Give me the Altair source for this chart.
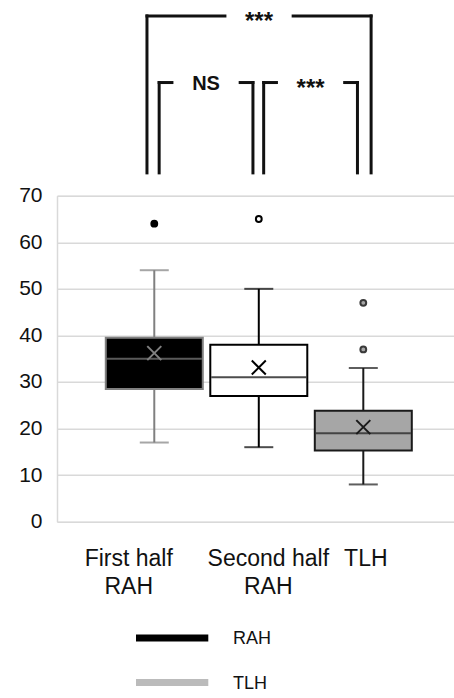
import json
import altair as alt
import pandas as pd

# ---------------- data ----------------
categories = ["First half RAH", "Second half RAH", "TLH"]
whisker_low = [17, 16, 8]
q1 = [28.5, 27.0, 15.3]
median = [35.0, 31.0, 19.0]
q3 = [39.5, 38.0, 23.8]
whisker_high = [54, 50, 33]
mean = [36.2, 33.1, 20.3]

outlier_category = ["First half RAH", "Second half RAH", "TLH", "TLH"]
outlier_value = [64, 65, 47, 37]

bracket_from = ["First half RAH", "First half RAH", "Second half RAH"]
bracket_to = ["TLH", "Second half RAH", "TLH"]
bracket_label = ["***", "NS", "***"]
bracket_level = [2, 1, 1]

legend_series = ["RAH", "TLH"]
y_ticks = [0, 10, 20, 30, 40, 50, 60, 70]

# ---------------- styles ----------------
FONT = "Liberation Sans"
box_fill = {"First half RAH": "#000000", "Second half RAH": "#ffffff", "TLH": "#a6a6a6"}
box_line = {"First half RAH": "#808080", "Second half RAH": "#000000", "TLH": "#1a1a1a"}
out_fill = {"First half RAH": "#000000", "Second half RAH": "#ffffff", "TLH": "#a6a6a6"}
out_line = {"First half RAH": "#000000", "Second half RAH": "#000000", "TLH": "#3a3a3a"}
legend_colors = ["#000000", "#bbbbbb"]

W, H = 397, 326
x_dom = [-0.883, 2.820]
ppu = W / (x_dom[1] - x_dom[0])  # pixels per category step
xs = alt.Scale(domain=x_dom, nice=False, zero=False)
ys = alt.Scale(domain=[0, 70], nice=False, zero=False)

idx = {c: i for i, c in enumerate(categories)}

box = pd.DataFrame({
    "cat": categories, "idx": list(range(len(categories))),
    "wlo": whisker_low, "q1": q1, "med": median, "q3": q3,
    "whi": whisker_high, "mean": mean,
})
box["fill"] = box["cat"].map(box_fill)
box["line"] = box["cat"].map(box_line)

outl = pd.DataFrame({"cat": outlier_category, "val": outlier_value})
outl["idx"] = outl["cat"].map(idx)
outl["fill"] = outl["cat"].map(out_fill)
outl["line"] = outl["cat"].map(out_line)

# brackets (annotation geometry derived from category positions)
end_offsets = {2: (-7.5, 8.0), 1: (5.0, -6.0)}   # pixel nudges from box centres
level_top = {1: 94.3, 2: 108.6}
bracket_base = 74.9
gap = 70 / ppu
segs, labels = [], []
for f, t, lab, lev in zip(bracket_from, bracket_to, bracket_label, bracket_level):
    xl = idx[f] + end_offsets[lev][0] / ppu
    xr = idx[t] + end_offsets[lev][1] / ppu
    xm = (xl + xr) / 2
    top = level_top[lev]
    segs += [
        {"x": xl, "x2": xl, "y": bracket_base, "y2": top},
        {"x": xl, "x2": xm - gap / 2, "y": top, "y2": top},
        {"x": xm + gap / 2, "x2": xr, "y": top, "y2": top},
        {"x": xr, "x2": xr, "y": top, "y2": bracket_base},
    ]
    labels.append({"x": xm, "y": top, "label": lab})
segs = pd.DataFrame(segs)
labels = pd.DataFrame(labels)

# ---------------- axes ----------------
label_lines = [c.rsplit(" ", 1) if " " in c else c for c in categories]
label_expr = json.dumps(label_lines).replace('"', "'") + "[datum.value]"

x_axis = alt.Axis(
    values=list(range(len(categories))), labelExpr=label_expr, title=None,
    grid=False, ticks=False, domain=False, labelFont=FONT, labelFontSize=23,
    labelColor="#111111", labelPadding=26, labelLineHeight=28, labelBaseline="top",
    labelFlush=False, labelOverlap=False,
    labelOffset={"condition": [{"test": "datum.value == 0", "value": -26},
                               {"test": "datum.value == 1", "value": 9}],
                 "value": 2},
)
y_axis = alt.Axis(
    values=y_ticks, title=None, grid=True, gridColor="#d9d9d9", gridWidth=1.5,
    domain=True, domainColor="#d9d9d9", domainWidth=1.5, ticks=False,
    labelFont=FONT, labelFontSize=21, labelColor="#111111", labelPadding=15,
)

base = alt.Chart(box)
X = alt.X("idx:Q", scale=xs, axis=x_axis)

boxes = base.mark_bar(size=97, strokeWidth=2).encode(
    x=X, y=alt.Y("q1:Q", scale=ys, axis=y_axis), y2="q3:Q",
    fill=alt.Fill("fill:N", scale=None), stroke=alt.Stroke("line:N", scale=None),
)
whisk_lo = base.mark_rule(strokeWidth=2).encode(
    x=X, y=alt.Y("wlo:Q", scale=ys), y2="q1:Q", stroke=alt.Stroke("line:N", scale=None))
whisk_hi = base.mark_rule(strokeWidth=2).encode(
    x=X, y=alt.Y("q3:Q", scale=ys), y2="whi:Q", stroke=alt.Stroke("line:N", scale=None))
cap_lo = base.mark_tick(orient="horizontal", size=29, thickness=2).encode(
    x=X, y=alt.Y("wlo:Q", scale=ys), color=alt.Color("line:N", scale=None))
cap_hi = base.mark_tick(orient="horizontal", size=29, thickness=2).encode(
    x=X, y=alt.Y("whi:Q", scale=ys), color=alt.Color("line:N", scale=None))
med = base.mark_tick(orient="horizontal", size=95, thickness=2).encode(
    x=X, y=alt.Y("med:Q", scale=ys), color=alt.Color("line:N", scale=None))
mean_x = base.mark_point(shape="M-1,-1L1,1M-1,1L1,-1", size=196, filled=False,
                         strokeWidth=2, opacity=1).encode(
    x=X, y=alt.Y("mean:Q", scale=ys), stroke=alt.Stroke("line:N", scale=None))

outliers = alt.Chart(outl).mark_point(filled=True, size=34, strokeWidth=2, opacity=1).encode(
    x=alt.X("idx:Q", scale=xs), y=alt.Y("val:Q", scale=ys),
    fill=alt.Fill("fill:N", scale=None), stroke=alt.Stroke("line:N", scale=None),
)

bracket_lines = alt.Chart(segs).mark_rule(strokeWidth=3, color="#111111", strokeCap="square").encode(
    x=alt.X("x:Q", scale=xs), x2="x2:Q", y=alt.Y("y:Q", scale=ys), y2="y2:Q")
stars = alt.Chart(labels).transform_filter("datum.label != 'NS'").mark_text(
    font=FONT, fontSize=24, fontWeight="bold", color="#111111", baseline="middle", dy=6).encode(
    x=alt.X("x:Q", scale=xs), y=alt.Y("y:Q", scale=ys), text="label:N")
ns = alt.Chart(labels).transform_filter("datum.label == 'NS'").mark_text(
    font=FONT, fontSize=20, fontWeight="bold", color="#111111", baseline="middle", dy=1).encode(
    x=alt.X("x:Q", scale=xs), y=alt.Y("y:Q", scale=ys), text="label:N")

main = alt.layer(boxes, whisk_lo, whisk_hi, cap_lo, cap_hi, med, mean_x, outliers,
                 bracket_lines, stars, ns)

# ---------------- legend (below the axis labels) ----------------
leg_df = pd.DataFrame({"series": legend_series})
leg_y = alt.Y("series:N", axis=None,
              scale=alt.Scale(type="point", domain=legend_series, range=[442.3, 486.8], padding=0))
leg_color = alt.Color("series:N", legend=None,
                      scale=alt.Scale(domain=legend_series, range=legend_colors))
leg_lines = alt.Chart(leg_df).mark_rule(strokeWidth=7, strokeCap="butt").encode(
    x=alt.value(79), x2=alt.value(151.3), y=leg_y, color=leg_color)
leg_text = alt.Chart(leg_df).mark_text(
    font=FONT, fontSize=18, color="#111111", align="left", baseline="middle", dy=1).encode(
    x=alt.value(176), y=leg_y, text="series:N")
legend = alt.layer(leg_lines, leg_text)

chart = alt.layer(main, legend).resolve_scale(y="independent", color="independent").properties(
    width=W, height=H,
    autosize=alt.AutoSizeParams(type="none"),
    padding={"left": 57, "top": 195.7, "right": 0, "bottom": 698 - 195.7 - H},
).configure_view(strokeWidth=0).configure(background="white")

chart.save("out.html", embed_options={"renderer": "svg", "actions": False})
